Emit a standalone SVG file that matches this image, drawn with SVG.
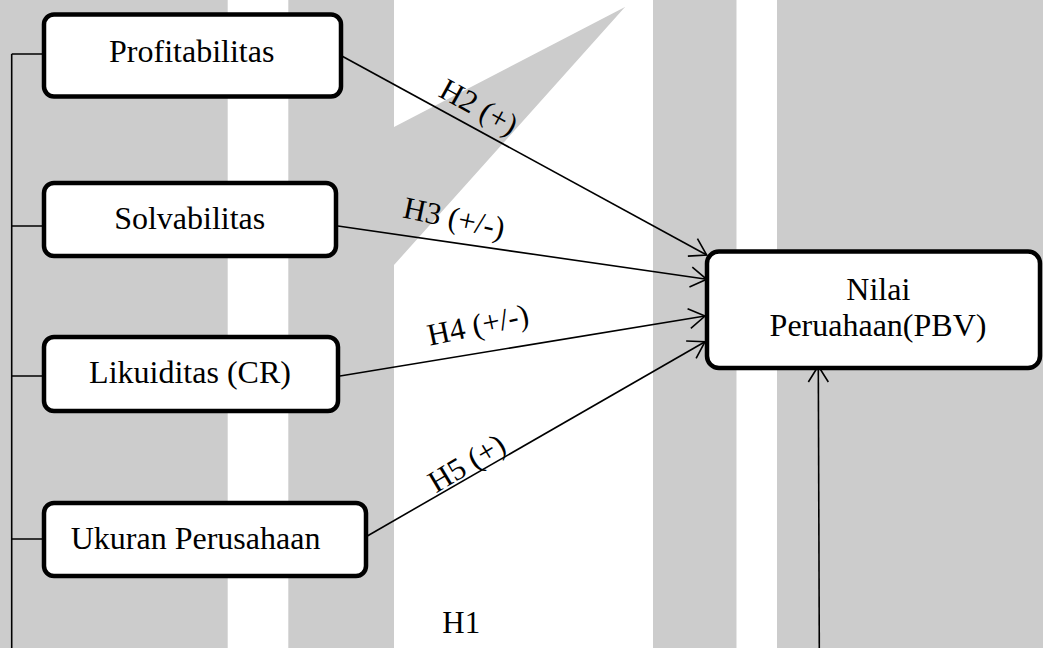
<svg xmlns="http://www.w3.org/2000/svg" width="1043" height="648" viewBox="0 0 1043 648">
<style>
.bg{fill:#cccccc}
.wh{fill:#ffffff}
.box{fill:#ffffff;stroke:#000000;stroke-width:4.5}
.nt{font-family:"Liberation Serif","Times New Roman",serif;font-size:32px;fill:#000000}
.lb{font-family:"Liberation Serif","Times New Roman",serif;font-size:31px;fill:#000000;text-anchor:middle}
.ln{fill:none;stroke:#000000;stroke-width:1.6}
.ar{fill:none;stroke:#000000;stroke-width:1.6;marker-end:url(#arr)}
</style>
<defs>
<marker id="arr" markerUnits="userSpaceOnUse" viewBox="0 0 18 22" refX="17" refY="11" markerWidth="18" markerHeight="22" orient="auto">
<path d="M1,1 L17,11 L1,21" fill="none" stroke="#000000" stroke-width="1.6"/>
</marker>
</defs>
<g id="background">
<rect class="bg" x="0" y="0" width="1043" height="648"/>
<rect class="wh" x="227.7" y="0" width="60.6" height="648"/>
<polygon class="wh" points="394,0 653,0 653,648 394,648 394,265 625,7 394,127"/>
<rect class="wh" x="736.5" y="0" width="40.5" height="648"/>
</g>
<g id="connectors">
<path class="ln" d="M11.7,54 V648 M11.7,54 H42 M11.7,226 H42 M11.7,376 H42 M11.7,539 H42"/>
<line class="ar" x1="340" y1="55" x2="706.7" y2="255"/>
<line class="ar" x1="338" y1="226" x2="706.7" y2="279.3"/>
<line class="ar" x1="340" y1="376" x2="705" y2="316"/>
<line class="ar" x1="366" y1="536.7" x2="705" y2="341.7"/>
<line class="ar" x1="819.3" y1="648" x2="818.3" y2="366"/>
<text class="lb" transform="translate(474,116) rotate(29)">H2 (+)</text>
<text class="lb" transform="translate(452,228) rotate(12)">H3 (+/-)</text>
<text class="lb" transform="translate(480,335) rotate(-12)">H4 (+/-)</text>
<text class="lb" transform="translate(472,472) rotate(-31)">H5 (+)</text>
<text class="lb" x="461.3" y="632.7">H1</text>
</g>
<g id="node-profitabilitas">
<rect class="box" x="44" y="14.5" width="297" height="82" rx="10"/>
<text class="nt" x="191.7" y="61.7" text-anchor="middle">Profitabilitas</text>
</g>
<g id="node-solvabilitas">
<rect class="box" x="44" y="183" width="292" height="73" rx="10"/>
<text class="nt" x="189.7" y="229.3" text-anchor="middle">Solvabilitas</text>
</g>
<g id="node-likuiditas">
<rect class="box" x="44" y="337" width="294" height="74" rx="10"/>
<text class="nt" x="190" y="382.7" text-anchor="middle">Likuiditas (CR)</text>
</g>
<g id="node-ukuran">
<rect class="box" x="44" y="503" width="322" height="73" rx="10"/>
<text class="nt" x="70.7" y="549.3">Ukuran Perusahaan</text>
</g>
<g id="node-nilai">
<rect class="box" x="707" y="251.5" width="333" height="116.5" rx="12"/>
<text class="nt" x="878.3" y="300" text-anchor="middle">Nilai</text>
<text class="nt" x="878" y="336" text-anchor="middle">Peruahaan(PBV)</text>
</g>
</svg>
